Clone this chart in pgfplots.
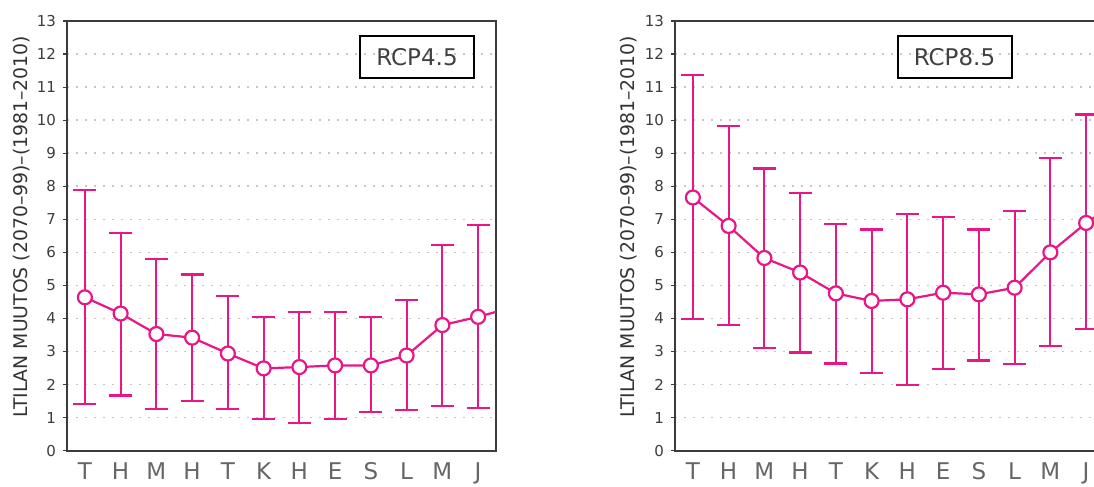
\documentclass[border=0pt]{standalone}
\usepackage{fontspec}
\setmainfont{DejaVu Sans}
\usepackage{pgfplots}
\usepackage{pgfplotstable}
\pgfplotsset{compat=1.18}

\definecolor{rcppink}{RGB}{233,22,135}
\definecolor{axgray}{RGB}{60,60,60}

% monthly change, mean and range (low/high)
\pgfplotstableread{
x  m    lo   hi
1  4.64 1.41 7.88
2  4.15 1.67 6.59
3  3.53 1.27 5.80
4  3.42 1.50 5.33
5  2.94 1.27 4.68
6  2.49 0.95 4.04
7  2.53 0.85 4.20
8  2.58 0.97 4.20
9  2.58 1.16 4.04
10 2.88 1.22 4.56
11 3.80 1.36 6.22
12 4.05 1.30 6.82
}\rcpA

\pgfplotstableread{
x  m    lo   hi
1  7.66 3.99 11.36
2  6.80 3.80 9.82
3  5.83 3.11 8.54
4  5.39 2.97 7.80
5  4.76 2.64 6.87
6  4.53 2.34 6.69
7  4.58 1.99 7.15
8  4.78 2.46 7.07
9  4.73 2.73 6.69
10 4.93 2.62 7.25
11 6.00 3.17 8.86
12 6.89 3.68 10.17
}\rcpB

\pgfplotsset{
  panel/.style={
    scale only axis, width=214.5pt, height=214.85pt,
    anchor=south west,
    xmin=0.5, xmax=12.5, ymin=0, ymax=13,
    xtick={1,...,12},
    xticklabels={T,H,M,H,T,K,H,E,S,L,M,J},
    ytick={0,...,13},
    ytick pos=left, tick align=outside, major tick length=2pt,
    x tick style={draw=none},
    y tick style={axgray, line width=0.6pt},
    ymajorgrids,
    grid style={gray!45, line width=0.8pt, dash pattern=on 0.8pt off 3.7pt},
    axis line style={axgray, line width=0.9pt},
    /pgf/number format/assume math mode=true,
    yticklabel style={font=\fontsize{7.5}{9}\selectfont, text=axgray},
    xticklabel style={font=\fontsize{11.5}{13}\selectfont, text=black!60,
      anchor=base, inner sep=0pt, text depth=0pt, yshift=-12.3pt},
  },
  ebar/.style={rcppink, line width=1.1pt, mark=none,
    error bars/.cd, y dir=both, y explicit, error mark=|,
    error mark options={rcppink, mark size=5.8pt, line width=1.1pt},
    error bar style={rcppink, line width=1.1pt}},
  circ/.style={rcppink, only marks, mark=*, mark size=3.5pt,
    mark options={fill=white, draw=rcppink, line width=1.1pt}},
}

\begin{document}
\begin{tikzpicture}
\useasboundingbox (0,0) rectangle (547pt,243.5pt);
\clip (0,0) rectangle (547pt,243.5pt);

\begin{axis}[panel, at={(33.5pt,18.15pt)}]
\addplot[ebar] table[x=x, y=m,
  y error plus expr=\thisrow{hi}-\thisrow{m},
  y error minus expr=\thisrow{m}-\thisrow{lo}] {\rcpA};
\addplot[rcppink, line width=1.1pt, mark=none] coordinates {(12,4.05) (12.5,4.20)};
\addplot[circ] table[x=x, y=m] {\rcpA};
\end{axis}

\begin{axis}[panel, at={(337.5pt,18.15pt)}]
\addplot[ebar] table[x=x, y=m,
  y error plus expr=\thisrow{hi}-\thisrow{m},
  y error minus expr=\thisrow{m}-\thisrow{lo}] {\rcpB};
\addplot[rcppink, line width=1.1pt, mark=none] coordinates {(12,6.89) (12.5,7.25)};
\addplot[circ] table[x=x, y=m] {\rcpB};
\end{axis}

\node[rotate=90, text=black!80, font=\fontsize{9.4}{11}\selectfont]
  at (11pt,130pt) {LTILAN MUUTOS (2070–99)–(1981–2010)};
\node[rotate=90, text=black!80, font=\fontsize{9.4}{11}\selectfont]
  at (314.5pt,130pt) {LTILAN MUUTOS (2070–99)–(1981–2010)};

\node[draw=black, line width=1pt, minimum width=57pt, minimum height=21pt,
  inner sep=0pt, text=black!75, font=\fontsize{11.5}{13}\selectfont]
  at (208.5pt,215pt) {RCP4.5};
\node[draw=black, line width=1pt, minimum width=57pt, minimum height=21pt,
  inner sep=0pt, text=black!75, font=\fontsize{11.5}{13}\selectfont]
  at (477.25pt,215pt) {RCP8.5};
\end{tikzpicture}
\end{document}
